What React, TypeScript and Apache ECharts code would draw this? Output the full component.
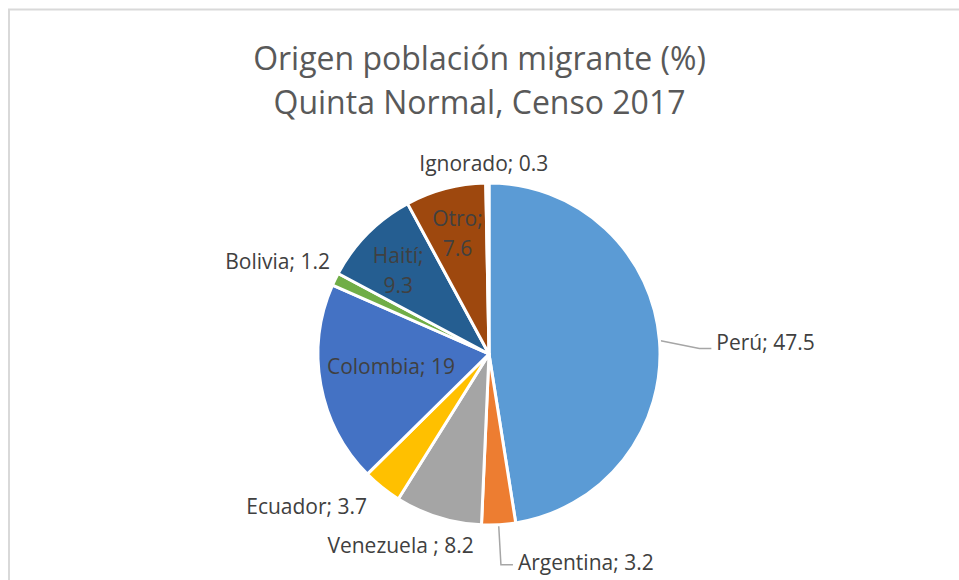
import React, { useEffect, useRef } from "react";
import * as echarts from "echarts";

const categories = ["Perú", "Argentina", "Venezuela ", "Ecuador", "Colombia", "Bolivia", "Haití", "Otro", "Ignorado"];
const values = [47.5, 3.2, 8.2, 3.7, 19, 1.2, 9.3, 7.6, 0.3];
const colors = ["#5B9BD5", "#ED7D31", "#A5A5A5", "#FFC000", "#4472C4", "#70AD47", "#255E91", "#9E480E", "#ffffff"];
const insideLabels = ["Colombia", "Haití", "Otro"];
const lineLabels = ["Perú", "Argentina"];
const wrappedLabels = ["Haití", "Otro"];
const titleLines = ["Origen población migrante (%)", "Quinta Normal, Censo 2017"];

// label nudges relative to ECharts' default placement: [dx, dy, guide-line dy]
const labelNudges: Record<string, [number, number, number]> = {
  "Perú": [0, 5, 11],
  "Argentina": [0, -3, 0],
  "Venezuela ": [47, 20, 0],
  "Ecuador": [-1, 12, 0],
  "Colombia": [-11, -4, 0],
  "Bolivia": [11, -15, 0],
  "Haití": [-28, -22, 0],
  "Otro": [-9, -35, 0],
  "Ignorado": [70, -12, 0],
};

const FONT = "'Open Sans', sans-serif";

export default function App() {
  const ref = useRef<HTMLDivElement>(null);
  useEffect(() => {
    if (!ref.current) return;
    const chart = echarts.init(ref.current, undefined, { renderer: "svg" });
    const data = categories.map((name, i) => {
      const inside = insideLabels.includes(name);
      const withLine = lineLabels.includes(name);
      const fmt = wrappedLabels.includes(name) ? `${name};\n${values[i]}` : `${name}; ${values[i]}`;
      return {
        name,
        value: values[i],
        itemStyle: { color: colors[i] },
        label: {
          position: inside ? "inside" : "outside",
          formatter: fmt,
        },
        labelLine: {
          show: withLine,
          length: withLine ? 40 : 8,
          length2: withLine ? 12 : 4,
        },
      };
    });
    chart.setOption({
      animation: false,
      backgroundColor: "#ffffff",
      title: {
        text: titleLines.join("\n"),
        left: "center",
        top: 30,
        textStyle: {
          fontFamily: FONT,
          fontSize: 32,
          fontWeight: "normal",
          color: "#595959",
          lineHeight: 44,
        },
      },
      graphic: [
        {
          type: "rect",
          shape: { x: 9, y: 9.5, width: 1000, height: 1000 },
          style: { fill: "none", stroke: "#d9d9d9", lineWidth: 2 },
          silent: true,
        },
      ],
      series: [
        {
          type: "pie",
          center: [489, 354],
          radius: 171,
          startAngle: 90,
          clockwise: true,
          avoidLabelOverlap: false,
          itemStyle: { borderColor: "#ffffff", borderWidth: 3 },
          label: {
            fontFamily: FONT,
            fontSize: 21,
            color: "#404040",
            lineHeight: 30,
          },
          labelLine: {
            lineStyle: { color: "#a6a6a6", width: 1.5 },
          },
          labelLayout: (params: any) => {
            const name = categories[params.dataIndex];
            const n = labelNudges[name] || [0, 0, 0];
            const out: any = { dx: n[0], dy: n[1] };
            if (params.labelLinePoints && n[2]) {
              const pts = params.labelLinePoints.map((p: number[]) => [p[0], p[1]]);
              pts[1][1] += n[2];
              pts[2][1] += n[2];
              out.labelLinePoints = pts;
            }
            return out;
          },
          data,
        },
      ],
    });
    return () => chart.dispose();
  }, []);
  return <div ref={ref} style={{ position: "absolute", left: 0, top: 0, width: 959, height: 580 }} />;
}
